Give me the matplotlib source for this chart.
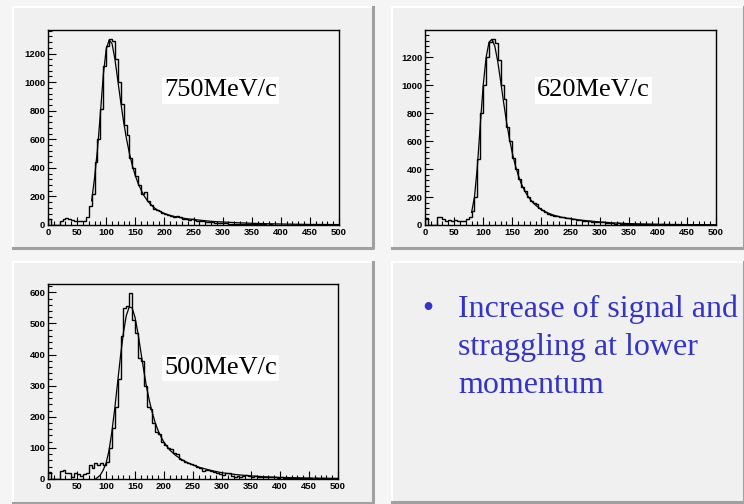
import numpy as np
import matplotlib
matplotlib.use("Agg")
import matplotlib.pyplot as plt
from matplotlib.patches import Rectangle
from matplotlib.lines import Line2D
from matplotlib.ticker import MultipleLocator

# histogram bin edges (100 bins, 0..500)
edges = np.arange(0, 505, 5)

# 750 MeV/c histogram
h750 = [45, 0, 0, 0, 25, 40, 50, 45, 35, 30,
        25, 25, 30, 55, 130, 220, 440, 600, 810, 1110,
        1250, 1300, 1290, 1160, 1000, 850, 700, 630, 470, 400,
        340, 280, 220, 230, 170, 140, 110, 105, 95, 85,
        75, 70, 62, 58, 60, 55, 45, 42, 38, 40,
        33, 30, 27, 25, 22, 20, 18, 16, 15, 13,
        12, 11, 10, 9, 10, 8, 7, 6, 7, 6,
        5, 6, 4, 5, 4, 3, 4, 3, 3, 2,
        3, 2, 2, 3, 2, 1, 2, 1, 1, 2,
        1, 1, 1, 0, 1, 1, 0, 1, 0, 1]
fit750_x = [75, 80, 85, 90, 95, 100, 105, 110, 115, 120, 125, 130, 135, 140, 145,
            150, 155, 160, 165, 170, 175, 180, 185, 190, 195, 200, 210, 220, 230,
            240, 250, 260, 270, 280, 290, 300, 325, 350, 375, 400, 450, 500]
fit750_y = [170, 330, 530, 780, 1050, 1230, 1295, 1270, 1160, 1010, 860, 720, 600,
            500, 415, 345, 290, 245, 205, 175, 150, 130, 113, 100, 90, 81, 67, 57,
            49, 43, 39, 34, 30, 26, 23, 21, 16, 12, 9, 7, 4, 3]

# 620 MeV/c histogram
h620 = [50, 0, 0, 0, 55, 55, 40, 30, 35, 30,
        35, 30, 30, 30, 40, 60, 100, 200, 470, 800,
        1000, 1200, 1310, 1330, 1300, 1180, 1000, 900, 700, 600,
        480, 400, 330, 270, 240, 200, 175, 160, 150, 120,
        105, 95, 80, 75, 68, 62, 58, 55, 50, 48,
        44, 40, 38, 35, 32, 30, 28, 25, 22, 20,
        18, 20, 15, 12, 14, 10, 11, 9, 8, 9,
        7, 8, 6, 7, 5, 6, 5, 4, 5, 4,
        3, 4, 3, 2, 3, 2, 2, 3, 2, 1,
        2, 1, 1, 2, 1, 1, 0, 1, 1, 0]
fit620_x = [80, 85, 90, 95, 100, 105, 110, 115, 120, 125, 130, 135, 140, 145, 150,
            155, 160, 165, 170, 175, 180, 185, 190, 195, 200, 210, 220, 230, 240,
            250, 260, 270, 280, 290, 300, 325, 350, 375, 400, 450, 500]
fit620_y = [90, 200, 420, 720, 1000, 1200, 1310, 1330, 1280, 1170, 1030, 880, 740,
            620, 515, 430, 360, 300, 255, 218, 188, 163, 142, 125, 110, 88, 72, 60,
            51, 45, 39, 34, 30, 26, 22, 15, 10, 7, 5, 3, 2]

# 500 MeV/c histogram
h500 = [22, 0, 0, 0, 25, 28, 20, 20, 8, 20,
        15, 10, 15, 20, 45, 35, 50, 45, 50, 45,
        55, 100, 165, 230, 320, 460, 550, 555, 597, 510,
        470, 390, 380, 300, 230, 225, 180, 150, 145, 120,
        110, 100, 95, 85, 80, 65, 60, 55, 50, 48,
        45, 40, 35, 25, 30, 28, 25, 22, 20, 15,
        12, 18, 20, 10, 8, 10, 8, 10, 12, 10,
        8, 9, 8, 7, 6, 6, 8, 5, 6, 4,
        5, 3, 4, 3, 3, 2, 3, 2, 3, 2,
        2, 1, 2, 1, 2, 1, 1, 1, 0, 1]
fit500_x = [82, 90, 95, 100, 105, 110, 115, 120, 125, 130, 135, 140, 145, 150, 155,
            160, 165, 170, 175, 180, 185, 190, 195, 200, 210, 220, 230, 240, 250,
            260, 270, 280, 290, 300, 325, 350, 375, 400, 450, 500]
fit500_y = [0, 12, 28, 50, 90, 150, 225, 310, 395, 470, 525, 553, 550, 520, 470,
            410, 350, 295, 250, 212, 180, 155, 135, 118, 93, 76, 63, 53, 45, 38,
            33, 28, 24, 20, 14, 10, 7, 5, 3, 2]

labels = ["750MeV/c", "620MeV/c", "500MeV/c"]
bullet_lines = ["Increase of signal and", "straggling at lower", "momentum"]

W, H = 744, 504
BG = "#f0f0f0"
fig = plt.figure(figsize=(W / 100, H / 100), dpi=100, facecolor="#f5f5f5")


def frac(x0, y0, x1, y1):
    return [x0 / W, 1 - y1 / H, (x1 - x0) / W, (y1 - y0) / H]


def panel(x0, y0, x1, y1):
    l, b, w, h = frac(x0, y0, x1, y1)
    fig.add_artist(Rectangle((l, b), w, h, transform=fig.transFigure,
                             facecolor=BG, edgecolor="none", zorder=-3))
    fig.add_artist(Line2D([l, l, l + w], [b, b + h, b + h], transform=fig.transFigure,
                          color="white", lw=1.5, zorder=-2))
    fig.add_artist(Line2D([l, l + w, l + w], [b, b, b + h], transform=fig.transFigure,
                          color="#a0a0a0", lw=2.2, zorder=-2))


panel(13, 7, 373, 248)
panel(392, 7, 744, 248)
panel(13, 262, 373, 503)
panel(392, 262, 744, 502)

specs = [
    (h750, fit750_x, fit750_y, (48, 30, 339, 225), 200, 40, labels[0], (0.40, 0.69)),
    (h620, fit620_x, fit620_y, (425, 30, 716, 225), 200, 40, labels[1], (0.385, 0.69)),
    (h500, fit500_x, fit500_y, (48, 284, 338, 479), 100, 20, labels[2], (0.40, 0.57)),
]

for vals, fx, fy, box, major, minor, lab, lpos in specs:
    ax = fig.add_axes(frac(*box))
    ax.set_facecolor(BG)
    ax.stairs(vals, edges, color="black", lw=1.0)
    ax.plot(fx, fy, color="black", lw=0.9)
    ax.set_xlim(0, 500)
    ax.set_ylim(0, max(vals) * 1.05)
    ax.xaxis.set_major_locator(MultipleLocator(50))
    ax.xaxis.set_minor_locator(MultipleLocator(10))
    ax.yaxis.set_major_locator(MultipleLocator(major))
    ax.yaxis.set_minor_locator(MultipleLocator(minor))
    ax.tick_params(which="both", direction="in", top=False, right=False, width=0.8)
    ax.tick_params(which="major", length=6, pad=2)
    ax.tick_params(which="minor", length=3)
    for t in ax.get_xticklabels() + ax.get_yticklabels():
        t.set_fontfamily("Liberation Sans")
        t.set_fontweight("bold")
        t.set_fontsize(6.8)
    for s in ax.spines.values():
        s.set_linewidth(1.0)
    ax.text(lpos[0], lpos[1], lab, transform=ax.transAxes, family="Liberation Serif",
            fontsize=19, va="center", ha="left",
            bbox=dict(facecolor="white", edgecolor="none", pad=1.5))

# text panel
blue = "#3434c8"
fig.text(428 / W, 1 - 317 / H, "\u2022", family="Liberation Serif", fontsize=23,
         color=blue, ha="center", va="baseline")
for i, line in enumerate(bullet_lines):
    fig.text(458 / W, 1 - (317 + 38 * i) / H, line, family="Liberation Serif",
             fontsize=23, color=blue, ha="left", va="baseline")

fig.savefig("out.png", dpi=100, facecolor=fig.get_facecolor())
